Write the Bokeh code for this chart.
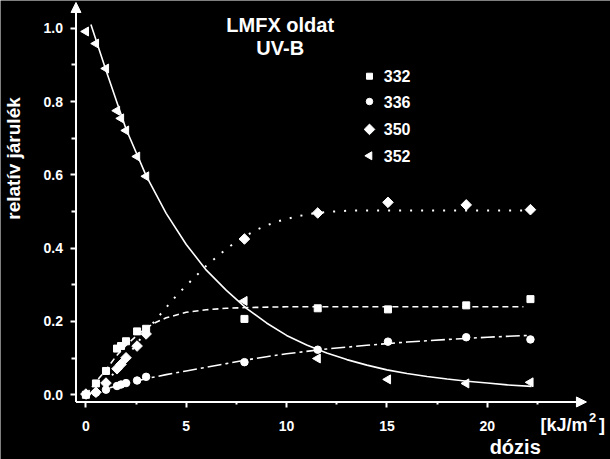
import numpy as np
from bokeh.plotting import figure
from bokeh.models import (Range1d, FixedTicker, PrintfTickFormatter, Label, Arrow, NormalHead)
from bokeh.core.properties import value
from bokeh.embed import file_html
from bokeh.resources import INLINE

# ---- data ----
dose = [0, 0.5, 1.0, 1.55, 1.75, 2.0, 2.55, 3.0, 7.9, 11.55, 15.05, 18.95, 22.15]
r332 = [0.0, 0.031, 0.065, 0.126, 0.133, 0.146, 0.173, 0.180, 0.207, 0.236, 0.233, 0.244, 0.261]
r336 = [0.0, 0.006, 0.014, 0.024, 0.028, 0.032, 0.039, 0.049, 0.089, 0.123, 0.145, 0.157, 0.151]
r350 = [0.002, 0.007, 0.032, 0.071, 0.083, 0.101, 0.133, 0.166, 0.425, 0.496, 0.525, 0.518, 0.505]
r352 = [0.991, 0.958, 0.890, 0.775, 0.754, 0.721, 0.650, 0.596, 0.256, 0.099, 0.042, 0.031, 0.034]

# fitted curves
fit332_d = [0, 0.5, 1, 1.5, 2, 2.5, 3, 3.5, 4, 5, 6, 7, 8, 10, 14, 18, 21.8]
fit332_v = [0, 0.035, 0.068, 0.105, 0.135, 0.160, 0.182, 0.198, 0.210, 0.225, 0.232, 0.236,
            0.238, 0.240, 0.240, 0.240, 0.240]
fit336_d = [0, 1, 2, 3, 4, 5, 6, 7, 8, 9, 10, 12, 14, 16, 18, 20, 22]
fit336_v = [0, 0.016, 0.031, 0.044, 0.055, 0.065, 0.075, 0.085, 0.095, 0.104, 0.112, 0.125,
            0.135, 0.144, 0.151, 0.157, 0.162]
fit350_d = [0, 0.5, 1, 1.5, 2, 2.5, 3, 3.5, 4, 4.5, 5, 5.5, 6, 6.5, 7, 7.5, 8, 8.5, 9, 9.5,
            10, 11, 12, 13, 14, 16, 18, 20, 22]
fit350_v = [0, 0.012, 0.035, 0.065, 0.100, 0.137, 0.172, 0.206, 0.238, 0.270, 0.298, 0.325,
            0.352, 0.375, 0.398, 0.418, 0.435, 0.450, 0.462, 0.472, 0.480, 0.492, 0.499,
            0.502, 0.503, 0.503, 0.503, 0.503, 0.503]
fit352_d = [0.25, 1, 2, 3, 4, 5, 6, 7, 8, 9, 10, 11, 12, 13, 14, 15, 16, 17, 18, 19, 20, 21, 22.2]
fit352_v = [1.010, 0.885, 0.725, 0.598, 0.495, 0.410, 0.340, 0.285, 0.236, 0.196, 0.162, 0.136,
            0.114, 0.096, 0.081, 0.068, 0.058, 0.050, 0.043, 0.037, 0.032, 0.027, 0.023]

series_names = ["332", "336", "350", "352"]
x_ticks = [0, 5, 10, 15, 20]
x_minor = [2.5, 7.5, 12.5, 17.5, 22.5]
y_ticks = [0.0, 0.2, 0.4, 0.6, 0.8, 1.0]
y_minor = [0.1, 0.3, 0.5, 0.7, 0.9]

FONT = "Liberation Sans"
W = "white"

# frame covers the whole canvas; axes are placed at fixed locations
XA, YA = -0.4933, -0.0196          # where the two axes cross
p = figure(width=610, height=459, output_backend="svg", toolbar_location=None,
           x_range=Range1d(-4.2551, 26.1385), y_range=Range1d(-0.17649, 1.07556),
           min_border_left=0, min_border_right=0, min_border_top=0, min_border_bottom=0,
           background_fill_color="black", border_fill_color="black")
p.outline_line_color = None
p.grid.visible = False

p.xaxis.fixed_location = YA
p.yaxis.fixed_location = XA
p.xaxis.ticker = FixedTicker(ticks=x_ticks, minor_ticks=x_minor)
p.yaxis.ticker = FixedTicker(ticks=y_ticks, minor_ticks=y_minor)
p.yaxis.formatter = PrintfTickFormatter(format="%.1f")
for ax in (p.xaxis[0], p.yaxis[0]):
    ax.axis_line_color = None
    ax.major_tick_line_color = W
    ax.minor_tick_line_color = W
    ax.major_tick_line_width = 2
    ax.minor_tick_line_width = 2
    ax.major_tick_in = 0
    ax.minor_tick_in = 0
    ax.major_label_text_color = W
    ax.major_label_text_font = FONT
    ax.major_label_text_font_style = "bold"
    ax.major_label_text_font_size = "14px"
p.xaxis.major_tick_out = 6
p.xaxis.minor_tick_out = 3
p.xaxis.major_label_standoff = 13
p.yaxis.major_tick_out = 5
p.yaxis.minor_tick_out = 4
p.yaxis.major_label_standoff = 8

# axis lines with arrow heads
p.add_layout(Arrow(end=NormalHead(size=10, fill_color=W, line_color=W, line_width=1),
                   x_start=XA, y_start=YA, x_end=24.94, y_end=YA,
                   line_color=W, line_width=2))
p.add_layout(Arrow(end=NormalHead(size=10, fill_color=W, line_color=W, line_width=1),
                   x_start=XA, y_start=YA, x_end=XA, y_end=1.0702,
                   line_color=W, line_width=2))

# fitted curves
p.line(fit332_d, fit332_v, line_color=W, line_width=1.6, line_dash="6 4")
p.line(fit336_d, fit336_v, line_color=W, line_width=1.6, line_dash="14 4 3 4")
p.line(fit350_d, fit350_v, line_color=W, line_width=2, line_dash="2 9")
p.line(fit352_d, fit352_v, line_color=W, line_width=1.6)

# measured points
p.scatter(dose, r332, marker="square", size=7, color=W)
p.scatter(dose, r336, marker="circle", size=7.5, color=W)
p.scatter(dose, r350, marker="square", angle=np.pi / 4, size=7.5, color=W)
p.scatter(dose, r352, marker="triangle", angle=np.pi / 2, size=9, color=W)

# legend (drawn by hand so that the rotated markers match)
leg_x, leg_tx = 14.13, 14.84
leg_y = [0.869, 0.800, 0.724, 0.652]
p.scatter([leg_x], [leg_y[0]], marker="square", size=6, color=W)
p.scatter([leg_x], [leg_y[1]], marker="circle", size=6.5, color=W)
p.scatter([leg_x], [leg_y[2]], marker="square", angle=np.pi / 4, size=7.5, color=W)
p.scatter([leg_x], [leg_y[3]], marker="triangle", angle=np.pi / 2, size=8, color=W)
p.text(x=[leg_tx] * 4, y=leg_y, text=series_names, text_color=W,
       text_font=value(FONT), text_font_style="bold", text_font_size="16px",
       text_align="left", text_baseline="middle")

def lab(x, y, text, size, align="left", angle=0):
    p.add_layout(Label(x=x, y=y, text=text, text_color=W, text_font=FONT,
                       text_font_style="bold", text_font_size=size, text_align=align,
                       text_baseline="middle", angle=angle))

lab(9.68, 1.0074, "LMFX oldat", "20px", align="center")
lab(9.68, 0.946, "UV-B", "20px", align="center")
lab(-3.583, 0.6446, "relatív járulék", "19px", align="center", angle=np.pi / 2)
lab(21.39, -0.1437, "dózis", "20px", align="center")
lab(22.65, -0.0829, "[kJ/m", "18px")
lab(25.07, -0.0627, "2", "13px")
lab(25.57, -0.0829, "]", "18px")

open("out.html", "w").write(file_html(p, INLINE))
